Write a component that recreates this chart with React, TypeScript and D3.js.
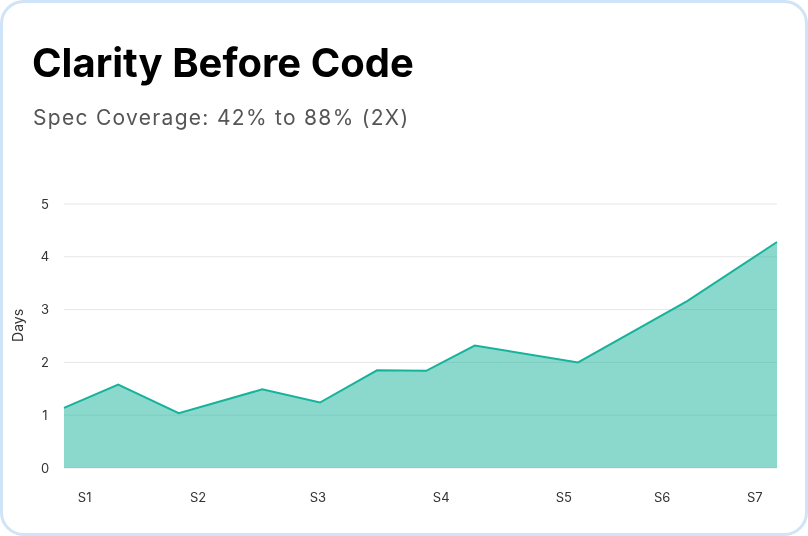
import React, { useEffect, useRef } from "react";
import * as d3 from "d3";

const title = "Clarity Before Code";
const subtitle = "Spec Coverage: 42% to 88% (2X)";
const yLabel = "Days";

// x positions on the sprint timeline (0–100) and the value in days
const xPositions = [0, 7.6, 16.1, 27.8, 35.9, 43.9, 50.8, 57.6, 72.1, 87.4, 100];
const dayValues = [1.14, 1.58, 1.04, 1.49, 1.24, 1.85, 1.84, 2.32, 2.0, 3.16, 4.28];

const sprintLabels = ["S1", "S2", "S3", "S4", "S5", "S6", "S7"];
const sprintTickPositions = [2.9, 18.8, 35.6, 52.9, 70.1, 83.9, 96.9];
const yTicks = [0, 1, 2, 3, 4, 5];

const W = 808;
const H = 536;
const M = { left: 64, right: 31, top: 204, bottom: 68 };

export default function App() {
  const ref = useRef<SVGSVGElement>(null);

  useEffect(() => {
    const svg = d3.select(ref.current);
    svg.selectAll("*").remove();

    svg
      .append("rect")
      .attr("x", 1.5)
      .attr("y", 1.5)
      .attr("width", W - 3)
      .attr("height", H - 3)
      .attr("rx", 22)
      .attr("fill", "#ffffff")
      .attr("stroke", "#cfe4f7")
      .attr("stroke-width", 3);

    svg
      .append("text")
      .attr("x", 32)
      .attr("y", 77)
      .attr("font-family", "Inter, sans-serif")
      .attr("font-weight", 700)
      .attr("font-size", 40)
      .attr("fill", "#000")
      .text(title);

    svg
      .append("text")
      .attr("x", 33)
      .attr("y", 125)
      .attr("font-family", "Inter, sans-serif")
      .attr("font-size", 21)
      .attr("letter-spacing", 1.3)
      .attr("fill", "#555")
      .text(subtitle);

    const x = d3.scaleLinear().domain([0, 100]).range([M.left, W - M.right]);
    const y = d3.scaleLinear().domain([0, 5]).range([H - M.bottom, M.top]);

    const g = svg.append("g");

    g.selectAll("line.grid")
      .data(yTicks)
      .join("line")
      .attr("class", "grid")
      .attr("x1", M.left)
      .attr("x2", W - M.right)
      .attr("y1", (d) => y(d))
      .attr("y2", (d) => y(d))
      .attr("stroke", "#e6e6e6")
      .attr("stroke-width", 1);

    g.selectAll("text.ytick")
      .data(yTicks)
      .join("text")
      .attr("class", "ytick")
      .attr("x", 45)
      .attr("y", (d) => y(d))
      .attr("dy", "0.35em")
      .attr("text-anchor", "middle")
      .attr("font-family", "Inter, sans-serif")
      .attr("font-size", 13)
      .attr("fill", "#333")
      .text((d) => String(d));

    svg
      .append("text")
      .attr("transform", `translate(23, ${y(2.7)}) rotate(-90)`)
      .attr("text-anchor", "middle")
      .attr("font-family", "Inter, sans-serif")
      .attr("font-size", 14)
      .attr("fill", "#333")
      .text(yLabel);

    const pts = xPositions.map((xv, i) => [xv, dayValues[i]] as [number, number]);

    const area = d3
      .area<[number, number]>()
      .x((d) => x(d[0]))
      .y0(y(0))
      .y1((d) => y(d[1]));
    const line = d3
      .line<[number, number]>()
      .x((d) => x(d[0]))
      .y((d) => y(d[1]));

    g.append("path")
      .datum(pts)
      .attr("d", area)
      .attr("fill", "#17b29b")
      .attr("fill-opacity", 0.5);

    g.append("path")
      .datum(pts)
      .attr("d", line)
      .attr("fill", "none")
      .attr("stroke", "#17b29b")
      .attr("stroke-width", 2);

    g.selectAll("text.xtick")
      .data(sprintLabels)
      .join("text")
      .attr("class", "xtick")
      .attr("x", (_d, i) => x(sprintTickPositions[i]))
      .attr("y", 497)
      .attr("dy", "0.35em")
      .attr("text-anchor", "middle")
      .attr("font-family", "Inter, sans-serif")
      .attr("font-size", 13)
      .attr("fill", "#333")
      .text((d) => d);
  }, []);

  return (
    <div style={{ position: "fixed", left: 0, top: 0 }}>
      <svg ref={ref} width={W} height={H} style={{ display: "block" }} />
    </div>
  );
}
